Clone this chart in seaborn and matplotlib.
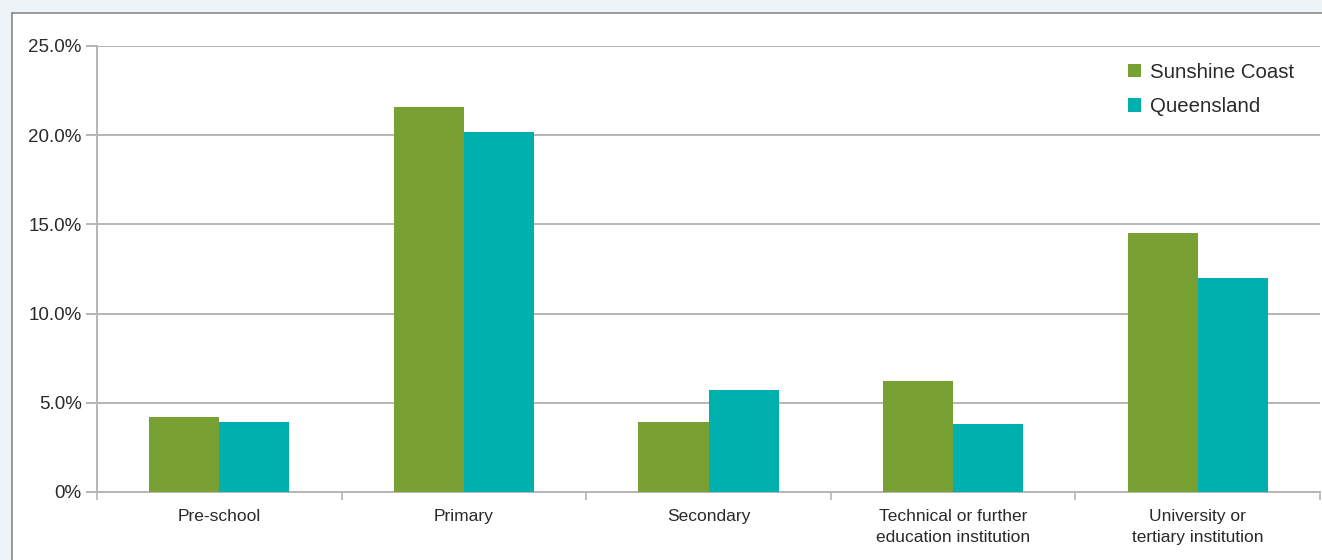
"""Education institution attendance, Sunshine Coast vs Queensland."""
# %%
import pandas as pd
import seaborn as sns
import matplotlib.pyplot as plt
from matplotlib.ticker import FixedLocator, FuncFormatter

# %%
categories = [
    "Pre-school",
    "Primary",
    "Secondary",
    "Technical or further\neducation institution",
    "University or\ntertiary institution",
]
sunshine_coast = [4.2, 21.6, 3.9, 6.2, 14.5]
queensland = [3.9, 20.2, 5.7, 3.8, 12.0]
series_names = ["Sunshine Coast", "Queensland"]
y_ticks = [0, 5, 10, 15, 20, 25]

# %%
df = pd.DataFrame(
    {
        "category": categories * 2,
        "region": [series_names[0]] * 5 + [series_names[1]] * 5,
        "value": sunshine_coast + queensland,
    }
)

sns.set_style("white")
plt.rcParams["font.family"] = ["Liberation Sans", "DejaVu Sans"]

fig = plt.figure(figsize=(13.22, 5.6), dpi=100, facecolor="#eef3f7")

# white panel behind the chart
bg = fig.add_axes([12 / 1322, -0.05, 1.1, 1 - 13 / 560 + 0.05])
bg.set_facecolor("white")
bg.set_xticks([])
bg.set_yticks([])
for side in bg.spines.values():
    side.set_color("#8a8a8a")
    side.set_linewidth(1.2)

ax = fig.add_axes([97 / 1322, 1 - 492 / 560, (1320 - 97) / 1322, (492 - 46) / 560])
ax.set_facecolor("none")

sns.barplot(
    data=df, x="category", y="value", hue="region",
    palette=["#78a032", "#00b0ae"], width=0.573, saturation=1,
    linewidth=0, ax=ax, zorder=3,
)

#
ax.set_ylim(0, 25)
ax.set_xlim(-0.5, 4.5)
ax.yaxis.set_major_locator(FixedLocator(y_ticks))
ax.yaxis.set_major_formatter(FuncFormatter(lambda v, p: "0%" if v == 0 else f"{v:.1f}%"))
ax.grid(axis="y", color="#b5b5b5", linewidth=1.4, zorder=0)
ax.set_axisbelow(True)
ax.tick_params(axis="y", length=8, width=1.4, color="#b5b5b5", labelsize=13.5,
               labelcolor="#2a2a2a", pad=3, left=True)
ax.tick_params(axis="x", which="major", length=0, labelsize=12.5, labelcolor="#2a2a2a", pad=12)
for lbl in ax.get_xticklabels():
    lbl.set_linespacing(1.55)
ax.xaxis.set_minor_locator(FixedLocator([-0.5, 0.5, 1.5, 2.5, 3.5, 4.5]))
ax.tick_params(axis="x", which="minor", length=6, width=1.2, color="#b5b5b5", bottom=True)
for side in ["top", "right"]:
    ax.spines[side].set_visible(False)
for side in ["left", "bottom"]:
    ax.spines[side].set_color("#b5b5b5")
    ax.spines[side].set_linewidth(1.4)
ax.set_xlabel("")
ax.set_ylabel("")

#
ax.legend(
    loc="upper left", bbox_to_anchor=(0.828, 1.004), frameon=False,
    fontsize=14.7, handlelength=0.65, handleheight=0.65, handletextpad=0.45,
    labelspacing=0.75, labelcolor="#2a2a2a",
)

plt.savefig("out.png", dpi=100, facecolor=fig.get_facecolor())
